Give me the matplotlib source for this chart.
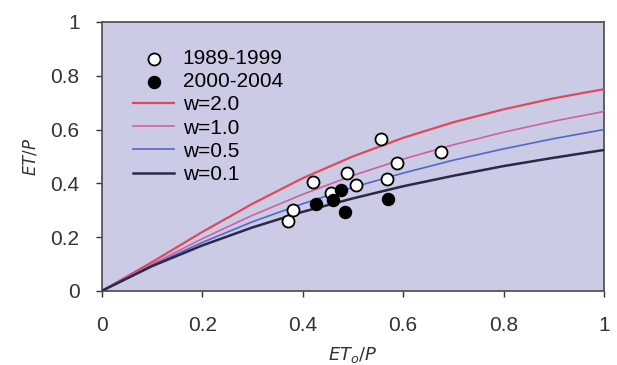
import matplotlib
matplotlib.use("Agg")
import matplotlib.pyplot as plt

plt.rcParams['font.family'] = ['Liberation Sans', 'DejaVu Sans']

# ET0/P, ET/P observations
x_8999 = [0.371, 0.381, 0.421, 0.456, 0.489, 0.507, 0.556, 0.567, 0.588, 0.675]
y_8999 = [0.259, 0.299, 0.406, 0.363, 0.440, 0.394, 0.564, 0.416, 0.475, 0.516]
x_0004 = [0.426, 0.461, 0.477, 0.485, 0.569]
y_0004 = [0.323, 0.338, 0.375, 0.295, 0.341]

# curves
x_curve = [0.0, 0.1, 0.2, 0.3, 0.4, 0.5, 0.6, 0.7, 0.8, 0.9, 1.0]
y_w20 = [0.0, 0.107, 0.219, 0.324, 0.419, 0.500, 0.569, 0.627, 0.675, 0.716, 0.750]
y_w10 = [0.0, 0.099, 0.194, 0.281, 0.359, 0.429, 0.490, 0.543, 0.590, 0.631, 0.667]
y_w05 = [0.0, 0.095, 0.180, 0.257, 0.324, 0.385, 0.438, 0.486, 0.528, 0.566, 0.600]
y_w01 = [0.0, 0.092, 0.169, 0.236, 0.294, 0.344, 0.389, 0.428, 0.464, 0.495, 0.524]

ticks = [0, 0.2, 0.4, 0.6, 0.8, 1]
tick_labels = ["0", "0.2", "0.4", "0.6", "0.8", "1"]

fig = plt.figure(figsize=(6.17, 3.65), dpi=100)
ax = fig.add_axes([0.165, 0.203, 0.814, 0.737])
ax.set_facecolor("#cbcbe6")

ax.scatter(x_8999, y_8999, s=75, facecolor="white", edgecolor="black", linewidth=1.3,
           label="1989-1999", zorder=4)
ax.scatter(x_0004, y_0004, s=75, facecolor="black", edgecolor="black",
           label="2000-2004", zorder=5)
ax.plot(x_curve, y_w20, color="#e0485e", lw=1.6, label="w=2.0", zorder=3)
ax.plot(x_curve, y_w10, color="#d060a0", lw=1.2, label="w=1.0", zorder=3)
ax.plot(x_curve, y_w05, color="#5566cc", lw=1.2, label="w=0.5", zorder=3)
ax.plot(x_curve, y_w01, color="#2a2a48", lw=1.8, label="w=0.1", zorder=3)

ax.set_xlim(0, 1)
ax.set_ylim(0, 1)
ax.set_xticks(ticks)
ax.set_xticklabels(tick_labels)
ax.set_yticks(ticks)
ax.set_yticklabels(tick_labels)
ax.tick_params(labelsize=15, colors="#333333", length=4, width=1)
ax.tick_params(axis="x", pad=14)
ax.tick_params(axis="y", pad=12)
for s in ax.spines.values():
    s.set_color("#555555")
    s.set_linewidth(1.3)

ax.set_xlabel(r"$ET_o/P$", fontsize=13, color="#333333", labelpad=7)
ax.set_ylabel(r"$ET/P$", fontsize=12, color="#333333", labelpad=8)

ax.legend(loc="upper left", bbox_to_anchor=(0.045, 0.93), frameon=False, fontsize=15,
          handlelength=2.0, handletextpad=0.4, labelspacing=0.2, borderaxespad=0)

fig.savefig("out.png", dpi=100)
